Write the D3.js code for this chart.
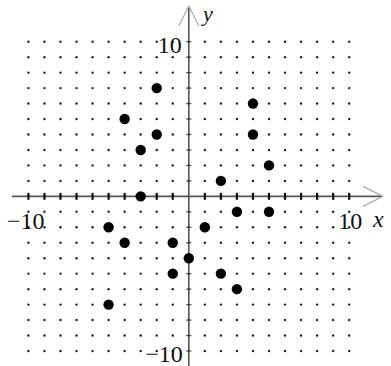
<!DOCTYPE html>
<html>
<head>
<meta charset="utf-8">
<script src="https://cdn.jsdelivr.net/npm/d3@7"></script>
<style>
  body { margin: 0; background: #fff; }
  text { font-family: "Liberation Serif", "DejaVu Serif", serif; fill: #111; }
</style>
</head>
<body>
<div id="chart"></div>
<script>
// plotted points (x, y)
const pointsX = [-2, -4, -2, -3, -3, 4, 4, 5, 2, -5, -4, -1, 0, -1, -5, 3, 5, 1, 2, 3];
const pointsY = [7, 5, 4, 3, 0, 6, 4, 2, 1, -2, -3, -3, -4, -5, -7, -1, -1, -2, -5, -6];
const gridValues = d3.range(-10, 11);
const tickLabels = ['\u221210', '10'];

const width = 391;
const height = 366;

const svg = d3.select('#chart')
    .append('svg')
    .attr('width', width)
    .attr('height', height);

const x = d3.scaleLinear().domain([-10, 10]).range([28.4, 349.2]);
const y = d3.scaleLinear().domain([-10, 10]).range([351, 41.7]);

const x0 = x(0);
const y0 = y(0);

// dotted grid
const grid = [];
gridValues.forEach(gx => gridValues.forEach(gy => grid.push([gx, gy])));
svg.append('g')
    .selectAll('circle')
    .data(grid)
    .enter()
    .append('circle')
    .attr('cx', d => x(d[0]))
    .attr('cy', d => y(d[1]))
    .attr('r', 1.2)
    .attr('fill', '#222');

// axes
svg.append('line')
    .attr('x1', 12).attr('x2', 382)
    .attr('y1', y0).attr('y2', y0)
    .attr('stroke', '#555').attr('stroke-width', 1.6);
svg.append('line')
    .attr('x1', x0).attr('x2', x0)
    .attr('y1', 7).attr('y2', height)
    .attr('stroke', '#555').attr('stroke-width', 1.6);

// arrow heads
svg.append('path')
    .attr('d', `M${363},${y0 - 10} L${383},${y0} L${363},${y0 + 10}`)
    .attr('fill', 'none').attr('stroke', '#aaa').attr('stroke-width', 1.2);
svg.append('path')
    .attr('d', `M${x0 - 10},${26} L${x0},${6} L${x0 + 10},${26}`)
    .attr('fill', 'none').attr('stroke', '#aaa').attr('stroke-width', 1.2);

// ticks
svg.append('g')
    .selectAll('line')
    .data(gridValues.filter(v => v !== 0))
    .enter()
    .append('line')
    .attr('x1', d => x(d)).attr('x2', d => x(d))
    .attr('y1', y0 - 3.5).attr('y2', y0 + 3.5)
    .attr('stroke', '#111').attr('stroke-width', 2.2);
svg.append('g')
    .selectAll('line')
    .data(gridValues.filter(v => v !== 0))
    .enter()
    .append('line')
    .attr('x1', x0 - 2.5).attr('x2', x0 + 2.5)
    .attr('y1', d => y(d)).attr('y2', d => y(d))
    .attr('stroke', '#444').attr('stroke-width', 1.2);

// data points
svg.append('g')
    .selectAll('circle')
    .data(pointsX.map((v, i) => [v, pointsY[i]]))
    .enter()
    .append('circle')
    .attr('cx', d => x(d[0]))
    .attr('cy', d => y(d[1]))
    .attr('r', 5.2)
    .attr('fill', '#000');

// labels
const fs = '24px';
svg.append('text').attr('x', 7).attr('y', y0 + 33)
    .attr('text-anchor', 'start').style('font-size', fs).text(tickLabels[0]);
svg.append('text').attr('x', x(10) + 1).attr('y', y0 + 33)
    .attr('text-anchor', 'middle').style('font-size', fs).text(tickLabels[1]);
svg.append('text').attr('x', x0 - 7).attr('y', y(10) + 11)
    .attr('text-anchor', 'end').style('font-size', fs).text(tickLabels[1]);
svg.append('text').attr('x', x0 - 6).attr('y', y(-10) + 11)
    .attr('text-anchor', 'end').style('font-size', fs).text(tickLabels[0]);
svg.append('text').attr('x', 373).attr('y', y0 + 31)
    .style('font-size', fs).style('font-style', 'italic').text('x');
svg.append('text').attr('x', 203).attr('y', 21)
    .style('font-size', '22px').style('font-style', 'italic').text('y');
</script>
</body>
</html>
